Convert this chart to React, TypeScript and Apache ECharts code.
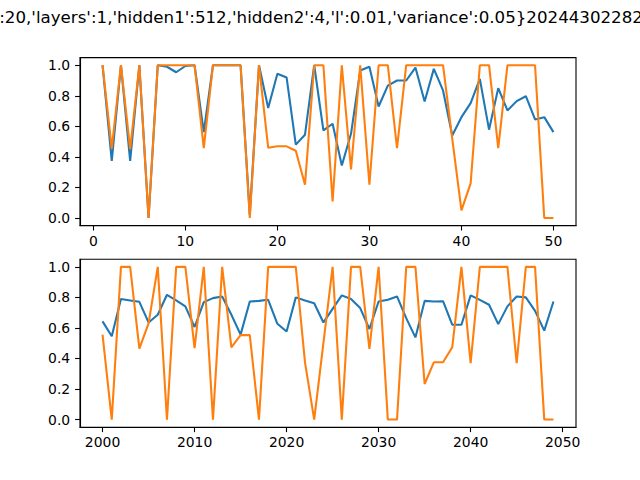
import React, { useEffect, useRef } from "react";
import * as echarts from "echarts";

const TITLE_PREFIX = "{'epochs'";
const TITLE_REST =
  ":20,'layers':1,'hidden1':512,'hidden2':4,'l':0.01,'variance':0.05}202443022825";

const topX = Array.from({ length: 50 }, (_, i) => i + 1);
const topBlue = [
  1.0, 0.373, 1.0, 0.373, 1.0, 0.0, 1.0, 0.99, 0.954, 0.995,
  1.0, 0.562, 1.0, 1.0, 1.0, 1.0, 0.02, 1.0, 0.72, 0.944,
  0.92, 0.48, 0.545, 1.0, 0.573, 0.617, 0.344, 0.551, 0.965, 0.99,
  0.73, 0.867, 0.9, 0.9, 0.985, 0.763, 0.976, 0.835, 0.54, 0.66,
  0.752, 0.911, 0.578, 0.85, 0.704, 0.765, 0.797, 0.645, 0.66, 0.562,
];
const topOrange = [
  1.0, 0.454, 1.0, 0.45, 1.0, 0.0, 1.0, 1.0, 1.0, 1.0,
  1.0, 0.457, 1.0, 1.0, 1.0, 1.0, 0.0, 1.0, 0.46, 0.469,
  0.469, 0.44, 0.218, 1.0, 1.0, 0.109, 1.0, 0.318, 1.0, 0.218,
  1.0, 1.0, 0.457, 1.0, 1.0, 1.0, 1.0, 1.0, 0.52, 0.05,
  0.227, 1.0, 1.0, 0.457, 1.0, 1.0, 1.0, 1.0, 0.0, 0.0,
];

const bottomX = Array.from({ length: 50 }, (_, i) => 2000 + i);
const bottomBlue = [
  0.643, 0.545, 0.789, 0.78, 0.771, 0.636, 0.686, 0.817, 0.78, 0.741,
  0.606, 0.769, 0.795, 0.806, 0.686, 0.556, 0.773, 0.777, 0.784, 0.627,
  0.577, 0.8, 0.78, 0.762, 0.636, 0.725, 0.813, 0.789, 0.73, 0.593,
  0.773, 0.784, 0.806, 0.664, 0.538, 0.777, 0.773, 0.775, 0.621, 0.621,
  0.813, 0.784, 0.752, 0.625, 0.741, 0.806, 0.8, 0.712, 0.582, 0.773,
];
const bottomOrange = [
  0.556, 0.0, 1.0, 1.0, 0.464, 0.63, 1.0, 0.0, 1.0, 1.0,
  0.468, 1.0, 0.0, 1.0, 0.473, 0.553, 0.553, 0.0, 1.0, 1.0,
  1.0, 1.0, 0.375, 0.0, 0.5, 1.0, 0.0, 1.0, 1.0, 0.462,
  1.0, 0.0, 0.0, 1.0, 1.0, 0.233, 0.375, 0.375, 0.473, 1.0,
  0.37, 1.0, 1.0, 1.0, 1.0, 0.37, 1.0, 1.0, 0.0, 0.0,
];

const topXTicks = [0, 10, 20, 30, 40, 50];
const bottomXTicks = [2000, 2010, 2020, 2030, 2040, 2050];
const yTicks = [0, 0.2, 0.4, 0.6, 0.8, 1.0];

const FONT = "DejaVu Sans";
const BLUE = "#1f77b4";
const ORANGE = "#ff7f0e";

function measure(text: string, size: number): number {
  const c = document.createElement("canvas");
  const ctx = c.getContext("2d");
  if (!ctx) return 0;
  ctx.font = `${size}px "${FONT}"`;
  return ctx.measureText(text).width;
}

function xAxis(idx: number, min: number, max: number, ticks: number[]) {
  return {
    type: "value",
    gridIndex: idx,
    min,
    max,
    splitLine: { show: false },
    axisLine: { show: true, onZero: false, lineStyle: { color: "#000", width: 1.1 } },
    axisTick: {
      show: true,
      inside: false,
      length: 4.9,
      lineStyle: { color: "#000", width: 1.1 },
      customValues: ticks,
    },
    axisLabel: {
      show: true,
      margin: 8,
      color: "#000",
      fontFamily: FONT,
      fontSize: 13.9,
      customValues: ticks,
      formatter: (v: number) => String(v),
    },
  };
}

function yAxis(idx: number) {
  return {
    type: "value",
    gridIndex: idx,
    min: -0.05,
    max: 1.05,
    splitLine: { show: false },
    axisLine: { show: true, onZero: false, lineStyle: { color: "#000", width: 1.1 } },
    axisTick: {
      show: true,
      inside: false,
      length: 4.9,
      lineStyle: { color: "#000", width: 1.1 },
      customValues: yTicks,
    },
    axisLabel: {
      show: true,
      margin: 9.8,
      color: "#000",
      fontFamily: FONT,
      fontSize: 13.9,
      customValues: yTicks,
      formatter: (v: number) => v.toFixed(1),
    },
  };
}

function lineSeries(xs: number[], ys: number[], idx: number, color: string) {
  return {
    type: "line",
    xAxisIndex: idx,
    yAxisIndex: idx,
    data: xs.map((x, i) => [x, ys[i]]),
    showSymbol: false,
    symbol: "none",
    lineStyle: { color, width: 2.08 },
    itemStyle: { color },
    clip: false,
  };
}

export default function App() {
  const ref = useRef<HTMLDivElement | null>(null);

  useEffect(() => {
    if (!ref.current) return;
    const chart = echarts.init(ref.current, null, { renderer: "svg", width: 640, height: 480 });
    const titleSize = 16.67;
    const prefixW = measure(TITLE_PREFIX, titleSize);
    chart.setOption({
      animation: false,
      backgroundColor: "#fff",
      textStyle: { fontFamily: FONT },
      grid: [
        { left: 80, top: 57.6, width: 496, height: 168, show: true, borderColor: "#000", borderWidth: 1.1, backgroundColor: "transparent" },
        { left: 80, top: 259.2, width: 496, height: 168, show: true, borderColor: "#000", borderWidth: 1.1, backgroundColor: "transparent" },
      ],
      xAxis: [xAxis(0, -1.45, 52.45, topXTicks), xAxis(1, 1997.55, 2051.45, bottomXTicks)],
      yAxis: [yAxis(0), yAxis(1)],
      series: [
        lineSeries(topX, topBlue, 0, BLUE),
        lineSeries(topX, topOrange, 0, ORANGE),
        lineSeries(bottomX, bottomBlue, 1, BLUE),
        lineSeries(bottomX, bottomOrange, 1, ORANGE),
      ],
      graphic: [
        {
          type: "text",
          x: -0.8 - prefixW,
          y: 9,
          style: {
            text: TITLE_PREFIX + TITLE_REST,
            fill: "#000",
            font: `${titleSize}px "${FONT}"`,
            textAlign: "left",
            textVerticalAlign: "top",
          },
        },
      ],
    });
    return () => chart.dispose();
  }, []);

  return (
    <div
      ref={ref}
      style={{ position: "fixed", left: 0, top: 0, width: 640, height: 480, background: "#fff" }}
    />
  );
}
